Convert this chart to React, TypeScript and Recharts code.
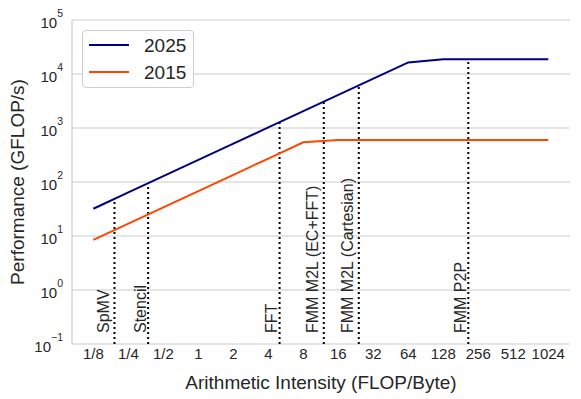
import React from 'react';
import {
  LineChart,
  Line,
  XAxis,
  YAxis,
  CartesianGrid,
  ReferenceLine,
  ReferenceDot,
  Legend,
  Label,
} from 'recharts';

// roofline samples (FLOP/Byte -> GFLOP/s)
const intensity = [0.125, 0.25, 0.5, 1, 2, 4, 8, 16, 32, 64, 128, 256, 512, 1024];
const perf2025 = [32, 64, 128, 256, 512, 1024, 2048, 4096, 8192, 16384, 18700, 18700, 18700, 18700];
const perf2015 = [8.5, 17, 34, 68, 136, 272, 544, 600, 600, 600, 600, 600, 600, 600];

const xTicks = [0.125, 0.25, 0.5, 1, 2, 4, 8, 16, 32, 64, 128, 256, 512, 1024];
const xTickLabels = ['1/8', '1/4', '1/2', '1', '2', '4', '8', '16', '32', '64', '128', '256', '512', '1024'];
const yTicks = [0.1, 1, 10, 100, 1000, 10000, 100000];
const yTickExponents = ['\u22121', '0', '1', '2', '3', '4', '5'];

// kernels marked with dotted lines
const kernels = ['SpMV', 'Stencil', 'FFT', 'FMM M2L (EC+FFT)', 'FMM M2L (Cartesian)', 'FMM P2P'];
const kernelIntensity = [0.19, 0.37, 5, 12, 24, 210];
const kernelTop = [48.6, 94.7, 1280, 3072, 6144, 18700];

const series = [
  { key: 'y2025', name: '2025', color: '#000080' },
  { key: 'y2015', name: '2015', color: '#ff4500' },
];

const data = intensity.map((x, i) => ({ x, y2025: perf2025[i], y2015: perf2015[i] }));

const FONT = '"Liberation Sans", Arial, Helvetica, sans-serif';
const TEXT = '#262626';
const GRID = '#cccccc';

const XTick = (props: any) => {
  const { x, y, payload } = props;
  const idx = xTicks.indexOf(payload.value);
  return (
    <text x={x} y={y + 15} textAnchor="middle" fontSize={15} fill={TEXT} fontFamily={FONT}>
      {xTickLabels[idx]}
    </text>
  );
};

const YTick = (props: any) => {
  const { y, payload } = props;
  const idx = yTicks.indexOf(payload.value);
  return (
    <text x={55} y={y + 8} textAnchor="end" fontSize={15} fill={TEXT} fontFamily={FONT}>
      <tspan>10</tspan>
      <tspan dy={-11} fontSize={10.5}>{yTickExponents[idx]}</tspan>
    </text>
  );
};

const KernelLabel = (name: string) => (props: any) => {
  const { cx, cy } = props;
  const desc = /[pgyq(),]/.test(name) ? 3.4 : 0;
  const bx = cx - 2.5 - desc;
  const by = cy - 11;
  return (
    <text
      x={bx}
      y={by}
      transform={`rotate(-90 ${bx} ${by})`}
      fontSize={16}
      fill={TEXT}
      fontFamily={FONT}
    >
      {name}
    </text>
  );
};

const LegendBox = () => (
  <div
    style={{
      width: 112,
      height: 58,
      boxSizing: 'border-box',
      border: `1px solid ${GRID}`,
      borderRadius: 4,
      background: 'rgba(255,255,255,0.85)',
    }}
  >
    <svg width={110} height={56} style={{ display: 'block' }}>
      {series.map((s, i) => (
        <g key={s.key}>
          <line x1={6} x2={46} y1={14 + i * 27} y2={14 + i * 27} stroke={s.color} strokeWidth={2} />
          <text x={61} y={21.3 + i * 27} fontSize={19} fill={TEXT} fontFamily={FONT}>
            {s.name}
          </text>
        </g>
      ))}
    </svg>
  </div>
);

export default function App() {
  return (
    <div style={{ width: 573, height: 391 }}>
      <LineChart width={573} height={391} data={data} margin={{ top: 12, right: 11, left: 0, bottom: 0 }}>
        <CartesianGrid vertical={false} stroke={GRID} strokeWidth={1.2} />
        <XAxis
          dataKey="x"
          type="number"
          scale="log"
          domain={[0.0819, 1574]}
          allowDataOverflow
          ticks={xTicks}
          tick={<XTick />}
          tickLine={false}
          axisLine={false}
          tickSize={0}
          tickMargin={0}
          height={55}
          interval={0}
        >
          <Label
            content={({ viewBox }: any) => (
              <text
                x={viewBox.x + viewBox.width / 2}
                y={viewBox.y + 45}
                textAnchor="middle"
                fontSize={19}
                fill={TEXT}
                fontFamily={FONT}
              >
                Arithmetic Intensity (FLOP/Byte)
              </text>
            )}
          />
        </XAxis>
        <YAxis
          type="number"
          scale="log"
          domain={[0.1, 100000]}
          allowDataOverflow
          ticks={yTicks}
          tick={<YTick />}
          tickLine={false}
          axisLine={{ stroke: GRID, strokeWidth: 1.2 }}
          width={64}
          interval={0}
        >
          <Label
            content={({ viewBox }: any) => {
              const cx = 16;
              const cy = viewBox.y + viewBox.height / 2;
              return (
                <text
                  x={cx}
                  y={cy}
                  transform={`rotate(-90 ${cx} ${cy})`}
                  textAnchor="middle"
                  fontSize={19}
                  fill={TEXT}
                  fontFamily={FONT}
                >
                  Performance (GFLOP/s)
                </text>
              );
            }}
          />
        </YAxis>
        <YAxis
          yAxisId="frame"
          orientation="right"
          type="number"
          scale="log"
          domain={[0.1, 100000]}
          width={0}
          tick={false}
          tickLine={false}
          axisLine={{ stroke: GRID, strokeWidth: 1.2 }}
        />
        <Legend
          layout="vertical"
          align="center"
          verticalAlign="middle"
          content={() => <LegendBox />}
          wrapperStyle={{ position: 'absolute', left: 74, top: 22, width: 112, height: 58 }}
        />
        {kernels.map((k, i) => (
          <ReferenceLine
            key={`kl-${k}`}
            segment={[
              { x: kernelIntensity[i], y: 0.1 },
              { x: kernelIntensity[i], y: kernelTop[i] },
            ]}
            stroke="#000000"
            strokeWidth={2}
            strokeDasharray="2 3"
          />
        ))}
        {kernels.map((k, i) => (
          <ReferenceDot key={`kd-${k}`} x={kernelIntensity[i]} y={0.1} r={0} shape={KernelLabel(k)} />
        ))}
        {series.map((s) => (
          <Line
            key={s.key}
            dataKey={s.key}
            name={s.name}
            stroke={s.color}
            strokeWidth={2}
            dot={false}
            activeDot={false}
            type="linear"
            isAnimationActive={false}
          />
        ))}
      </LineChart>
    </div>
  );
}
